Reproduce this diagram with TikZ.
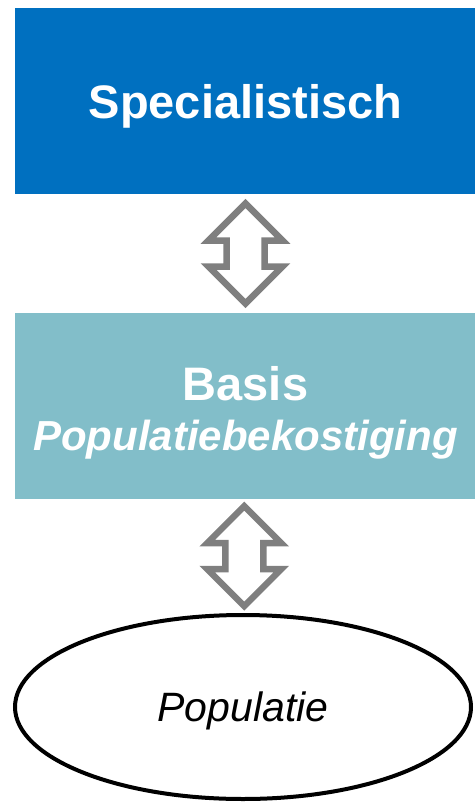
\documentclass[tikz,border=0pt]{standalone}
\usepackage{fontspec}
\setmainfont{Liberation Sans}
\usetikzlibrary{shapes.geometric,calc}

\definecolor{specblauw}{HTML}{0070C0}
\definecolor{basisturkoois}{HTML}{82BEC9}
\definecolor{pijlgrijs}{HTML}{7F7F7F}

\tikzset{
  blok/.style={rectangle, inner sep=0pt, minimum width=461pt, minimum height=186pt,
    text=white, text depth=0pt, align=center},
  pijl/.style={draw=pijlgrijs, fill=white, line width=6.5pt, miter limit=4},
}

\begin{document}
\begin{tikzpicture}[x=1pt, y=-1pt]
    \useasboundingbox (0,0) rectangle (474,802);

    % Blokken
    \node[blok, fill=specblauw, font=\bfseries\fontsize{47}{52}\selectfont] (spec) at (245.5,101) {Specialistisch};
    \node[blok, fill=basisturkoois, text height=88pt] (basis) at (245.5,406)
        {{\bfseries\fontsize{47}{52}\selectfont Basis}\\[18pt]{\bfseries\itshape\fontsize{42}{52}\selectfont Populatiebekostiging}};

    % Populatie (ellips)
    \node[ellipse, draw=black, line width=4pt, inner sep=0pt, minimum width=456pt, minimum height=184pt,
        text depth=0pt, font=\itshape\fontsize{41}{48}\selectfont] (pop) at (243,707) {Populatie};

    % Dubbele pijlen
    \coordinate (m1) at ($(spec.south)!0.5!(basis.north)$);
    \coordinate (m2) at ($(basis.south)!0.5!(pop.north)$);
    \foreach \m in {m1,m2}
        \draw[pijl] ($(\m)+(0,-50)$) -- ++(37,37) -- ++(-18,0) -- ++(0,26) -- ++(18,0)
            -- ++(-37,37) -- ++(-37,-37) -- ++(18,0) -- ++(0,-26) -- ++(-18,0) -- cycle;
\end{tikzpicture}
\end{document}
